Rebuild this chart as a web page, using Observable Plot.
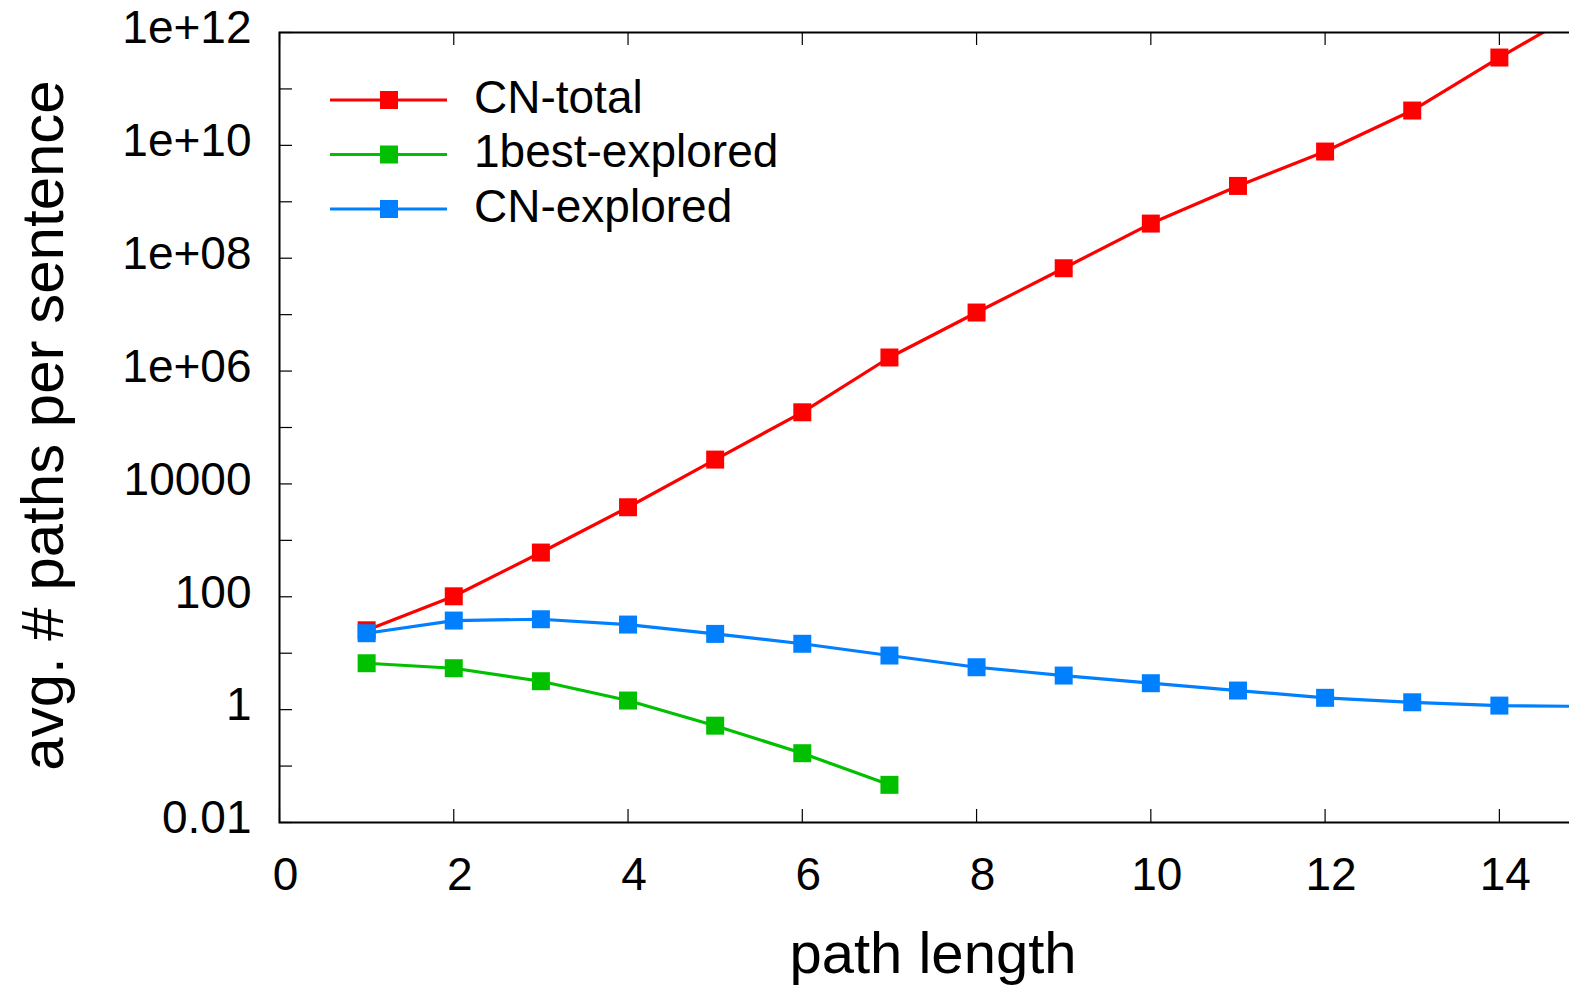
<!DOCTYPE html>
<html>
<head>
<meta charset="utf-8">
<script src="https://cdn.jsdelivr.net/npm/d3@7"></script>
<script src="https://cdn.jsdelivr.net/npm/@observablehq/plot@0.6"></script>
<style>
  html, body { margin: 0; padding: 0; background: #fff; overflow: hidden; }
</style>
</head>
<body>
<div id="chart"></div>
<script>
// ---- data ----
const seriesNames = ["CN-total", "1best-explored", "CN-explored"];
const seriesColors = ["#ff0000", "#00c000", "#0080ff"];
const pathLength = [1, 2, 3, 4, 5, 6, 7, 8, 9, 10, 11, 12, 13, 14, 15];
const cnTotal = [25.5, 102, 608, 3860, 27000, 186000, 1.74e6, 1.09e7, 6.64e7, 4.11e8, 1.91e9, 7.77e9, 4.14e10, 3.6e11, 2.8e12];
const best1Explored = [6.64, 5.42, 3.19, 1.45, 0.52, 0.169, 0.0465];
const cnExplored = [22.6, 37.9, 40, 32.2, 22, 14.7, 9.1, 5.64, 4.02, 2.94, 2.18, 1.62, 1.35, 1.18, 1.14];
const xTicks = [0, 2, 4, 6, 8, 10, 12, 14];
const yTicksAll = [1e-2, 1e-1, 1, 1e1, 1e2, 1e3, 1e4, 1e5, 1e6, 1e7, 1e8, 1e9, 1e10, 1e11, 1e12];
const yLabelTicks = [1e-2, 1, 1e2, 1e4, 1e6, 1e8, 1e10, 1e12];
const yLabels = ["0.01", "1", "100", "10000", "1e+06", "1e+08", "1e+10", "1e+12"];
const xTitle = "path length";
const yTitle = "avg. # paths per sentence";

// ---- build table ----
const seriesValues = [cnTotal, best1Explored, cnExplored];
const rows = [];
seriesNames.forEach((name, s) => {
  seriesValues[s].forEach((v, i) => rows.push({series: name, x: pathLength[i], y: v}));
});
const labelMap = new Map(yLabelTicks.map((t, i) => [t, yLabels[i]]));

// ---- layout ----
const W = 1600, H = 987;
const mL = 279, mR = 14, mT = 32, mB = 165;
const plotW = W - mL - mR, plotH = H - mT - mB;
const tickLen = 13;
const FONT = "'Liberation Sans', Arial, Helvetica, sans-serif";

const marks = [];
// inward ticks
marks.push(Plot.tickY(yTicksAll, {y: d => d, stroke: "#000", strokeWidth: 1.2, insetRight: plotW - tickLen}));
marks.push(Plot.tickX(xTicks, {x: d => d, stroke: "#000", strokeWidth: 1.2, insetTop: plotH - tickLen}));
marks.push(Plot.tickX(xTicks, {x: d => d, stroke: "#000", strokeWidth: 1.2, insetBottom: plotH - tickLen}));
// tick labels
marks.push(Plot.axisY({ticks: yLabelTicks, tickSize: 0, tickPadding: 28, tickFormat: d => labelMap.get(d), fontSize: 46, dy: -4, fill: "#000", label: null}));
marks.push(Plot.axisX({ticks: xTicks, tickSize: 0, tickPadding: 35, tickFormat: d => String(d), fontSize: 46, dx: 6, fill: "#000", label: null}));
// data
seriesNames.forEach((name, s) => {
  const d = rows.filter(r => r.series === name);
  marks.push(Plot.line(d, {x: "x", y: "y", stroke: seriesColors[s], strokeWidth: 3.2, clip: true}));
  marks.push(Plot.dot(d, {x: "x", y: "y", symbol: "square", r: 10.15, fill: seriesColors[s], stroke: "none", clip: true}));
});
// frame
marks.push(Plot.frame({stroke: "#000", strokeWidth: 2}));
// axis titles
marks.push(Plot.text([xTitle], {frameAnchor: "bottom", dy: 150, fontSize: 58, fill: "#000"}));
marks.push(Plot.text([yTitle], {frameAnchor: "left", textAnchor: "middle", lineAnchor: "middle", rotate: -90, dx: -236, dy: -2, fontSize: 60, fill: "#000"}));

const chart = Plot.plot({
  width: W,
  height: H,
  marginLeft: mL,
  marginRight: mR,
  marginTop: mT,
  marginBottom: mB,
  style: {fontFamily: FONT, maxWidth: "none", background: "#fff", color: "#000"},
  x: {domain: [0, 15], axis: null},
  y: {type: "log", domain: [0.01, 1e12], axis: null},
  marks
});

// legend (inside plot, top-left)
const svg = d3.select(chart);
const lg = svg.append("g").attr("font-family", FONT).attr("text-anchor", "start");
seriesNames.forEach((name, i) => {
  const cy = 100 + i * 54.5;
  lg.append("line").attr("x1", 330).attr("x2", 447).attr("y1", cy).attr("y2", cy)
    .attr("stroke", seriesColors[i]).attr("stroke-width", 3.2);
  lg.append("rect").attr("x", 389 - 9).attr("y", cy - 9).attr("width", 18).attr("height", 18)
    .attr("fill", seriesColors[i]);
  lg.append("text").attr("x", 474).attr("y", cy).attr("dy", "0.28em")
    .attr("text-anchor", "start")
    .attr("font-size", 46).attr("fill", "#000").text(name);
});

document.getElementById("chart").appendChild(chart);
</script>
</body>
</html>
